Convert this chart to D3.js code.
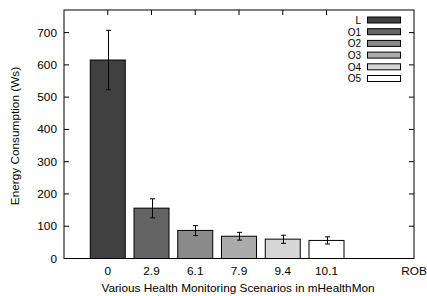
<!DOCTYPE html>
<html><head><meta charset="utf-8">
<script src="https://cdn.jsdelivr.net/npm/d3@7/dist/d3.min.js"></script>
<style>body{margin:0;background:#fff}svg{display:block}text{font-family:"Liberation Sans",Arial,sans-serif;fill:#000}</style>
</head><body><svg id="c" width="427" height="296"></svg>
<script>
const series = ["L","O1","O2","O3","O4","O5"];
const values = [615, 156, 87, 69, 60, 56];
const errLow = [523, 126, 71, 57, 47, 45];
const errHigh = [707, 185, 102, 81, 72, 67];
const tickLabels = ["0","2.9","6.1","7.9","9.4","10.1","","ROB"];
const colors = ["#404040","#646464","#8a8a8a","#ababab","#d6d6d6","#ffffff"];
const yTicks = [0,100,200,300,400,500,600,700];

const svg = d3.select("#c");
const L = 64, R = 414, T = 10, B = 258.5;
const x = d3.scaleLinear().domain([-1,7]).range([L,R]);
const y = d3.scaleLinear().domain([0,770]).range([B,T]);
const bw = 0.8*(x(1)-x(0));

// bars
svg.selectAll("rect.bar").data(values).enter().append("rect")
  .attr("x",(d,i)=>x(i)-bw/2).attr("y",d=>y(d))
  .attr("width",bw).attr("height",d=>B-y(d))
  .attr("fill",(d,i)=>colors[i]).attr("stroke","#000").attr("stroke-width",1);

// error bars
const eg = svg.append("g").attr("stroke","#000").attr("stroke-width",1);
values.forEach((v,i)=>{
  const cx = Math.round(x(i))+0.5;
  eg.append("line").attr("x1",cx).attr("x2",cx).attr("y1",y(errLow[i])).attr("y2",y(errHigh[i]));
  [errLow[i],errHigh[i]].forEach(e=>{
    eg.append("line").attr("x1",cx-2.5).attr("x2",cx+2.5).attr("y1",y(e)).attr("y2",y(e));
  });
});

// frame
svg.append("rect").attr("x",L).attr("y",T).attr("width",R-L).attr("height",B-T)
  .attr("fill","none").attr("stroke","#000").attr("stroke-width",1);

// y axis ticks and labels
const tg = svg.append("g").attr("stroke","#000").attr("stroke-width",1);
yTicks.forEach(t=>{
  if(t===0) return;
  tg.append("line").attr("x1",L).attr("x2",L+5).attr("y1",y(t)).attr("y2",y(t));
  tg.append("line").attr("x1",R).attr("x2",R-5).attr("y1",y(t)).attr("y2",y(t));
});
svg.append("g").selectAll("text").data(yTicks).enter().append("text")
  .attr("x",57).attr("y",d=>y(d)+4).attr("text-anchor","end").attr("font-size",11.8)
  .text(d=>d);

// x ticks (top mirror only) and labels
tickLabels.forEach((lab,i)=>{
  if(lab==="" || i===7) return;
  tg.append("line").attr("x1",x(i)).attr("x2",x(i)).attr("y1",T).attr("y2",T+5);
});
svg.append("g").selectAll("text").data(tickLabels).enter().append("text")
  .attr("x",(d,i)=>x(i)).attr("y",275).attr("text-anchor","middle").attr("font-size",11.8)
  .text(d=>d);

// axis titles
svg.append("text").attr("x",238).attr("y",292).attr("text-anchor","middle").attr("font-size",11.8)
  .text("Various Health Monitoring Scenarios in mHealthMon");
svg.append("text").attr("transform","translate(19,136) rotate(-90)")
  .attr("text-anchor","middle").attr("font-size",11.8).text("Energy Consumption (Ws)");

// legend
const lg = svg.append("g");
series.forEach((s,i)=>{
  const yy = 20 + i*11.7;
  lg.append("text").attr("x",361).attr("y",yy+3.8).attr("text-anchor","end").attr("font-size",10).text(s);
  lg.append("rect").attr("x",367.5).attr("y",yy-3).attr("width",33).attr("height",6)
    .attr("fill",colors[i]).attr("stroke","#000").attr("stroke-width",1);
});
</script></body></html>
